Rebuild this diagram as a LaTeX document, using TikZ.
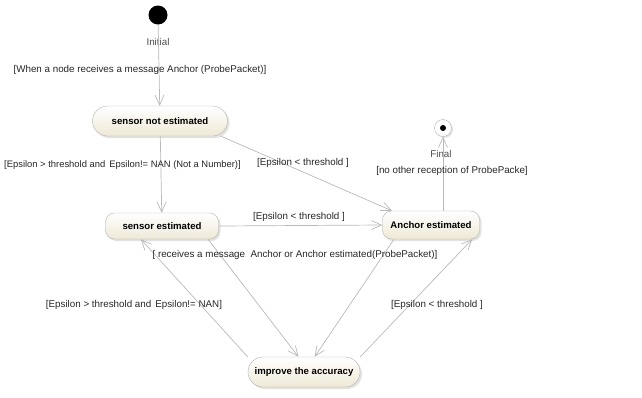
\documentclass[tikz,border=0pt]{standalone}
\usepackage{fontspec}
\setmainfont{Liberation Sans}
\usetikzlibrary{arrows.meta,shadows}
\definecolor{statefill}{RGB}{238,233,214}
\definecolor{edgegray}{RGB}{185,185,185}
\tikzset{
    state/.style={draw=gray!60, rounded corners=12pt, top color=white, bottom color=statefill,
        drop shadow={shadow xshift=2pt, shadow yshift=-2pt, fill=gray!45},
        font=\bfseries\fontsize{9.6}{11}\selectfont, inner sep=0pt},
    guard/.style={font=\fontsize{9.8}{11}\selectfont, text=black!85, inner sep=1pt},
    trans/.style={draw=edgegray, line width=0.7pt, -{Straight Barb[length=10pt,width=9pt]}}
}
\begin{document}
\begin{tikzpicture}[x=1pt,y=-1pt]
    \useasboundingbox (0,0) rectangle (642,397);
    % Pseudo states
    \node[circle, fill=black, minimum size=19pt, inner sep=0pt] (init) at (158,15) {};
    \node[guard, text=black!70] (initlbl) at (158,42) {Initial};
    \node[circle, draw=gray!60, fill=white, minimum size=17pt, inner sep=0pt,
          drop shadow={shadow xshift=1.5pt, shadow yshift=-1.5pt, fill=gray!45}] (fin) at (443,128) {};
    \fill[black] (fin.center) circle (3pt);
    \node[guard, text=black!70] (finlbl) at (441,154) {Final};
    % States
    \node[state, minimum width=135pt, minimum height=30pt, rounded corners=15pt] (sne) at (160,121) {sensor not estimated};
    \node[state, minimum width=113pt, minimum height=26pt, rounded corners=9pt] (se) at (162,226) {sensor estimated};
    \node[state, minimum width=97pt, minimum height=28pt, rounded corners=9pt] (ae) at (431,225) {Anchor estimated};
    \node[state, minimum width=112pt, minimum height=30pt, rounded corners=15pt] (ia) at (304,372) {improve the accuracy};
    % Transitions
    \draw[trans] (init) -- (sne);
    \draw[trans] (sne) -- (se);
    \draw[trans] (sne.-14) -- (ae.160);
    \draw[trans] (se.east) -- (ae.west);
    \draw[trans] (fin |- ae.north) -- (fin);
    \draw[trans] (ia.165) -- (se.212);
    \draw[trans] (se.-16) -- (ia.110);
    \draw[trans] (ae.201) -- (ia.55);
    \draw[trans] (ia.15) -- (ae.-19);
    % Guards
    \node[guard] (g1) at (140,70) {[When a node receives a message Anchor (ProbePacket)]};
    \node[guard, anchor=west, font=\fontsize{9.4}{11}\selectfont] (g2) at (3,165) {[Epsilon > threshold and\hspace{4pt}Epsilon!= NAN (Not a Number)]};
    \node[guard] (g3) at (303,163) {[Epsilon < threshold ]};
    \node[guard] (g4) at (299,217) {[Epsilon < threshold ]};
    \node[guard] (g5) at (452,171) {[no other reception of ProbePacke]};
    \node[guard] (g6) at (295,255) {[ receives a message\ \ Anchor or Anchor estimated(ProbePacket)]};
    \node[guard] (g7) at (134,305) {[Epsilon > threshold and\hspace{4pt}Epsilon!= NAN]};
    \node[guard] (g8) at (437,305) {[Epsilon < threshold ]};
\end{tikzpicture}
\end{document}
